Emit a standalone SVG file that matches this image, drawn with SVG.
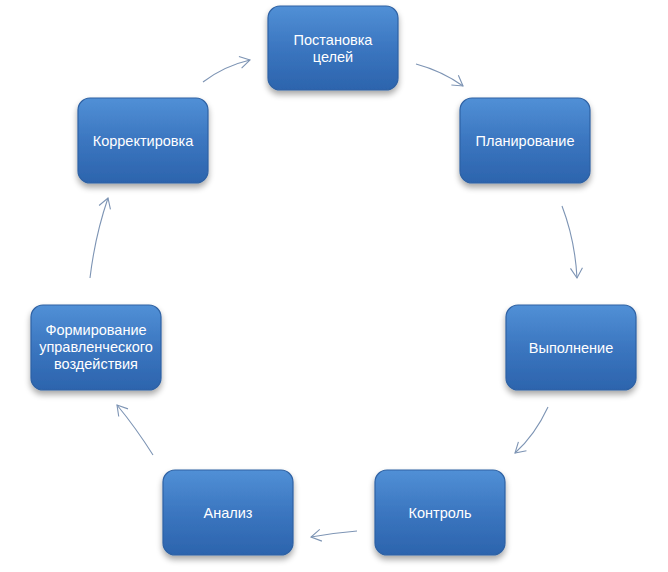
<svg xmlns="http://www.w3.org/2000/svg" width="668" height="572" viewBox="0 0 668 572">
<defs>
<linearGradient id="g" x1="0" y1="0" x2="0" y2="1">
<stop offset="0" stop-color="#5190d6"/>
<stop offset="0.5" stop-color="#3b76c0"/>
<stop offset="1" stop-color="#2c64ad"/>
</linearGradient>
<filter id="sh" x="-20%" y="-20%" width="140%" height="150%">
<feGaussianBlur in="SourceAlpha" stdDeviation="3"/>
<feOffset dx="0" dy="4" result="b"/>
<feComponentTransfer><feFuncA type="linear" slope="0.35"/></feComponentTransfer>
<feMerge><feMergeNode/><feMergeNode in="SourceGraphic"/></feMerge>
</filter>
<marker id="ah" markerWidth="14" markerHeight="14" refX="11" refY="7" orient="auto" markerUnits="userSpaceOnUse">
<path d="M1,1 L11,7 L1,13" fill="none" stroke="#7d94b4" stroke-width="1.1"/>
</marker>
</defs>
<style>
.box{fill:url(#g);stroke:#2e61a3;stroke-width:1.2;filter:url(#sh)}
.t{font-family:"Liberation Sans",Arial,sans-serif;font-size:14.5px;fill:#ffffff;text-anchor:middle}
.c{fill:none;stroke:#7d94b4;stroke-width:1.1;marker-end:url(#ah)}
</style>
<rect width="668" height="572" fill="#ffffff"/>
<g id="connectors">
<path class="c" d="M203,82 Q224,66 250,60"/>
<path class="c" d="M416,64 Q442,71 463,86"/>
<path class="c" d="M562,206 Q575,240 577,278"/>
<path class="c" d="M548,407 Q535,435 515,453"/>
<path class="c" d="M357,531 Q333,533 311,537"/>
<path class="c" d="M153,455 Q136,428 117,405"/>
<path class="c" d="M90,278 Q95,236 108,198"/>
</g>
<g id="n1"><rect class="box" x="268" y="6" width="130" height="84" rx="12"/><text class="t" x="333" y="45">Постановка</text><text class="t" x="333" y="62">целей</text></g>
<g id="n2"><rect class="box" x="460" y="98" width="130" height="85" rx="12"/><text class="t" x="525" y="146">Планирование</text></g>
<g id="n3"><rect class="box" x="506" y="305" width="130" height="85" rx="12"/><text class="t" x="571" y="353">Выполнение</text></g>
<g id="n4"><rect class="box" x="375" y="470" width="130" height="85" rx="12"/><text class="t" x="440" y="518">Контроль</text></g>
<g id="n5"><rect class="box" x="163" y="470" width="130" height="85" rx="12"/><text class="t" x="228" y="518">Анализ</text></g>
<g id="n6"><rect class="box" x="31" y="305" width="130" height="85" rx="12"/><text class="t" x="96" y="335">Формирование</text><text class="t" x="96" y="352">управленческого</text><text class="t" x="96" y="369">воздействия</text></g>
<g id="n7"><rect class="box" x="78" y="98" width="130" height="85" rx="12"/><text class="t" x="143" y="146">Корректировка</text></g>
</svg>
